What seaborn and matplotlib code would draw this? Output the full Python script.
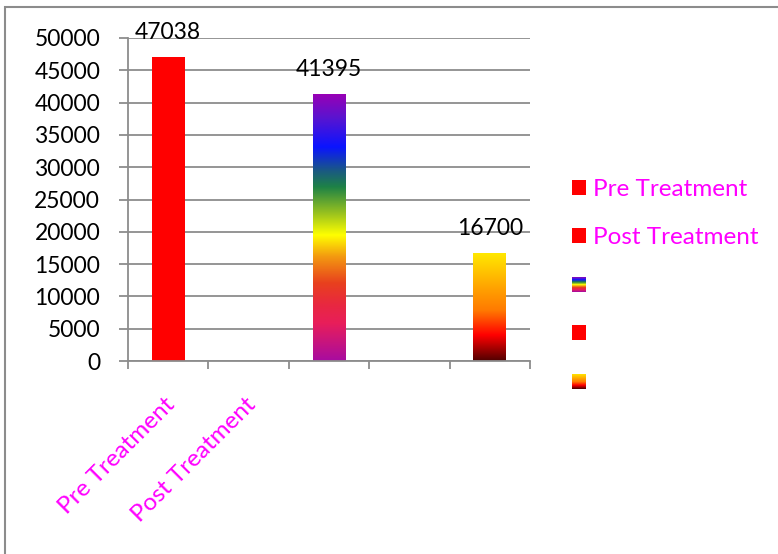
import numpy as np
import pandas as pd
import matplotlib
matplotlib.use("Agg")
import matplotlib.pyplot as plt
import matplotlib.transforms as mtransforms
import seaborn as sns
from matplotlib.colors import LinearSegmentedColormap
from matplotlib.patches import Rectangle, Patch
from matplotlib.legend_handler import HandlerBase

# Category slots on the x axis and the labels shown under them
slots = ["Pre Treatment", "Post Treatment", "Slot 3", "Slot 4", "Slot 5"]
tick_labels = ["Pre Treatment", "Post Treatment", "", "", ""]

# Bars: slot, value, fill style
bar_slots = ["Pre Treatment", "Slot 3", "Slot 5"]
bar_values = [47038, 41395, 16700]
bar_fills = ["solid", "rainbow", "fire"]

# Legend entries
legend_labels = ["Pre Treatment", "Post Treatment", "", "", ""]
legend_fills = ["solid", "solid", "rainbow", "solid", "fire"]

y_ticks = list(range(0, 50001, 5000))

GRID = "#8C8C8C"
MAGENTA = "#FF00FF"
RED = "#FF0000"
NUM_SIZE = 16.5
TEXT_SIZE = 17.5

# Gradient fills, listed bottom -> top
cmaps = {
    "rainbow": LinearSegmentedColormap.from_list("rainbow_fill", [
        (0.00, "#A80CA0"), (0.14, "#E81E5A"), (0.21, "#E82840"),
        (0.29, "#E8401E"), (0.39, "#F39A10"), (0.47, "#FFFF00"),
        (0.55, "#9BC31E"), (0.65, "#1E8246"), (0.71, "#1A5A82"),
        (0.80, "#0A14FF"), (0.91, "#5A14D0"), (1.00, "#9A00B4")]),
    "fire": LinearSegmentedColormap.from_list("fire_fill", [
        (0.00, "#500000"), (0.24, "#FF0000"), (0.47, "#FF7A00"),
        (0.69, "#FFA500"), (1.00, "#FFE800")]),
}

sns.set_style("white")
plt.rcParams["font.family"] = ["Lato", "DejaVu Sans"]

fig = plt.figure(figsize=(7.78, 5.54), dpi=100)
ax = fig.add_axes([128 / 778, 1 - 361 / 554, 402 / 778, 323 / 554])

df = pd.DataFrame({"slot": bar_slots, "value": bar_values, "fill": bar_fills})
sns.barplot(data=df, x="slot", y="value", order=slots, color=RED,
            saturation=1, width=0.41, ax=ax, zorder=3)

ax.set_xlim(-0.5, len(slots) - 0.5)
ax.set_ylim(y_ticks[0], y_ticks[-1])

fill_by_slot = dict(zip(bar_slots, bar_fills))
value_by_slot = dict(zip(bar_slots, bar_values))
grad = np.linspace(0, 1, 256).reshape(-1, 1)
for patch in ax.patches:
    cx = patch.get_x() + patch.get_width() / 2
    slot = slots[int(round(cx))]
    patch.set_edgecolor("none")
    fill = fill_by_slot[slot]
    if fill in cmaps:
        x0, w, h = patch.get_x(), patch.get_width(), patch.get_height()
        im = ax.imshow(grad, cmap=cmaps[fill], origin="lower", aspect="auto",
                       extent=[x0, x0 + w, patch.get_y(), patch.get_y() + h],
                       interpolation="bilinear", zorder=3)
        im.set_clip_path(patch)
        patch.set_facecolor("none")
    ax.annotate(f"{value_by_slot[slot]}", (cx, patch.get_height()),
                xytext=(0, 13), textcoords="offset points",
                ha="center", va="baseline", fontsize=NUM_SIZE, color="black",
                zorder=5)

ax.set_xlim(-0.5, len(slots) - 0.5)
ax.set_ylim(y_ticks[0], y_ticks[-1])

# Axes styling
ax.set_axisbelow(True)
ax.yaxis.grid(True, color=GRID, lw=1.3)
ax.xaxis.grid(False)
for s in ["top", "right"]:
    ax.spines[s].set_visible(False)
for s in ["left", "bottom"]:
    ax.spines[s].set_color(GRID)
    ax.spines[s].set_linewidth(1.3)
    ax.spines[s].set_zorder(4)

ax.set_yticks(y_ticks)
ax.tick_params(axis="y", length=6.5, width=1.3, color=GRID, pad=13.5,
               labelsize=NUM_SIZE, labelcolor="black", left=True)

ax.set_xticks(range(len(slots)))
ax.set_xticklabels(tick_labels, rotation=45, ha="right", va="top",
                   rotation_mode="anchor", color=MAGENTA, fontsize=TEXT_SIZE)
ax.set_xticks(np.arange(-0.5, len(slots), 1), minor=True)
ax.tick_params(axis="x", which="major", length=0, pad=24)
ax.tick_params(axis="x", which="minor", length=5.5, width=1.3, color=GRID,
               bottom=True)
shift = mtransforms.ScaledTranslation(-4 / 100, 0, fig.dpi_scale_trans)
for lab in ax.get_xticklabels():
    lab.set_transform(lab.get_transform() + shift)
ax.set_xlabel("")
ax.set_ylabel("")


class GradientHandler(HandlerBase):
    def __init__(self, cmap, n=30):
        super().__init__()
        self.cmap = cmap
        self.n = n

    def create_artists(self, legend, orig_handle, xdescent, ydescent,
                       width, height, fontsize, trans):
        artists = []
        step = height / self.n
        for i in range(self.n):
            r = Rectangle((-xdescent, -ydescent + i * step), width, step * 1.05,
                          facecolor=self.cmap((i + 0.5) / self.n),
                          edgecolor="none", transform=trans)
            artists.append(r)
        return artists


handles = []
handler_map = {}
for fill in legend_fills:
    p = Patch(facecolor=RED, edgecolor="none")
    if fill in cmaps:
        handler_map[p] = GradientHandler(cmaps[fill])
    handles.append(p)

leg = fig.legend(handles, legend_labels, handler_map=handler_map,
                 loc="upper left", bbox_to_anchor=(572 / 778, 1 - 179 / 554),
                 bbox_transform=fig.transFigure, frameon=False,
                 borderpad=0, borderaxespad=0, fontsize=TEXT_SIZE,
                 handlelength=0.58, handleheight=0.58, handletextpad=0.29,
                 labelspacing=1.13)
for t in leg.get_texts():
    t.set_color(MAGENTA)

# Outer chart frame (top and left edges visible)
fig.add_artist(Rectangle((5 / 778, -0.05), 1.1, 1 - 7 / 554 + 0.05,
                         transform=fig.transFigure, fill=False,
                         edgecolor=GRID, lw=1.5))

fig.savefig("out.png", dpi=100)
